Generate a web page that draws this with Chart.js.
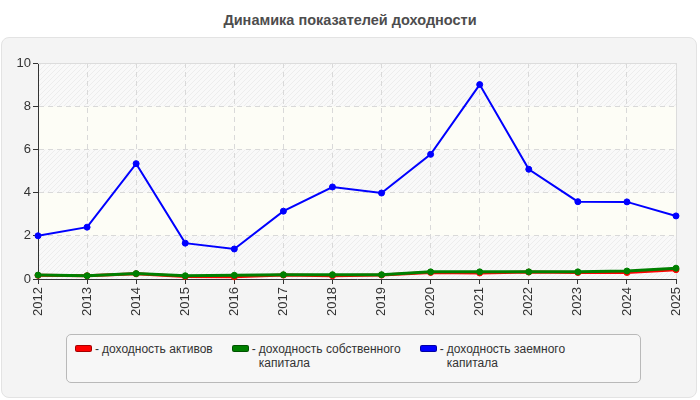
<!DOCTYPE html>
<html>
<head>
<meta charset="utf-8">
<script src="https://cdn.jsdelivr.net/npm/chart.js@4.4.1/dist/chart.umd.min.js"></script>
<style>
  body { margin: 0; background: #fff; font-family: "Liberation Sans", Arial, sans-serif; }
  #wrap { position: relative; width: 700px; height: 400px; overflow: hidden; }
  #title { position: absolute; left: 0; top: 12px; width: 700px; text-align: center;
           font: bold 14.5px "Liberation Sans", Arial, sans-serif; color: #4d4d4d; }
  #panel { position: absolute; left: 1px; top: 37px; width: 694px; height: 359px;
           background: #f4f4f4; border: 1px solid #e3e3e3; border-radius: 8px; }
  #chartbox { position: absolute; left: 0; top: 0; width: 700px; height: 330px; }
  #legend { position: absolute; left: 66px; top: 334px; width: 565px; height: 47px;
            border: 1px solid #b9b9b9; border-radius: 5px; background: #f7f7f7;
            display: flex; padding: 0 0 0 8px; gap: 19px; box-sizing: content-box; }
  .item { display: flex; align-items: flex-start; margin-top: 7px;
          font: 12px "Liberation Sans", Arial, sans-serif; color: #333; line-height: 14px; }
  .box { width: 15px; height: 5px; border-radius: 2px; border: 1px solid; margin-top: 3px; margin-right: 3px; }
  .dash { margin-right: 3px; }
  .txt { max-width: 142px; }
</style>
</head>
<body>
<div id="wrap">
  <div id="panel"></div>
  <div id="title">Динамика показателей доходности</div>
  <div id="chartbox"><canvas id="mycanvas" width="700" height="330"></canvas></div>
  <div id="legend"></div>
</div>
<script>
var years = ['2012','2013','2014','2015','2016','2017','2018','2019','2020','2021','2022','2023','2024','2025'];
var seriesNames = ['доходность активов', 'доходность собственного капитала', 'доходность заемного капитала'];
var seriesColors = ['#ff0000', '#008000', '#0000ff'];
var roa = [0.17, 0.15, 0.24, 0.12, 0.10, 0.18, 0.15, 0.18, 0.30, 0.28, 0.32, 0.30, 0.30, 0.43];
var roe = [0.18, 0.15, 0.25, 0.15, 0.17, 0.20, 0.20, 0.20, 0.33, 0.33, 0.33, 0.33, 0.37, 0.50];
var rod = [2.00, 2.40, 5.34, 1.66, 1.39, 3.14, 4.26, 3.98, 5.77, 9.00, 5.08, 3.58, 3.57, 2.92];
var yTicks = [0, 2, 4, 6, 8, 10];

// striped / cream bands behind the plot
function makeHatch(ctx) {
  var c = document.createElement('canvas');
  c.width = 5; c.height = 5;
  var g = c.getContext('2d');
  g.fillStyle = '#f9f9f9';
  g.fillRect(0, 0, 5, 5);
  g.strokeStyle = '#ededed';
  g.lineWidth = 1;
  g.beginPath();
  g.moveTo(0, 5); g.lineTo(5, 0);
  g.moveTo(-1, 1); g.lineTo(1, -1);
  g.moveTo(4, 6); g.lineTo(6, 4);
  g.stroke();
  return ctx.createPattern(c, 'repeat');
}

var bandPlugin = {
  id: 'bands',
  beforeDraw: function(chart) {
    var ctx = chart.ctx, a = chart.chartArea, y = chart.scales.y;
    var hatch = makeHatch(ctx);
    ctx.save();
    for (var i = 0; i < yTicks.length - 1; i++) {
      var top = y.getPixelForValue(yTicks[i + 1]);
      var bot = y.getPixelForValue(yTicks[i]);
      ctx.fillStyle = (i % 2 === 0) ? hatch : '#fdfdf6';
      ctx.fillRect(a.left, top, a.right - a.left, bot - top);
    }
    ctx.restore();
  },
  beforeDatasetsDraw: function(chart) {
    var ctx = chart.ctx, a = chart.chartArea;
    ctx.save();
    ctx.strokeStyle = '#dcdcdc';
    ctx.lineWidth = 1;
    ctx.beginPath();
    ctx.moveTo(a.left, Math.round(a.top) + 0.5);
    ctx.lineTo(Math.round(a.right) + 0.5, Math.round(a.top) + 0.5);
    ctx.lineTo(Math.round(a.right) + 0.5, a.bottom);
    ctx.stroke();
    ctx.restore();
  }
};

var chartdata = {
  labels: years,
  datasets: [
    { label: seriesNames[0], data: roa, borderColor: seriesColors[0], backgroundColor: seriesColors[0],
      borderWidth: 3, pointRadius: 3, pointBorderWidth: 1, order: 2, clip: false, tension: 0 },
    { label: seriesNames[1], data: roe, borderColor: seriesColors[1], backgroundColor: seriesColors[1],
      borderWidth: 3, pointRadius: 3, pointBorderWidth: 1, order: 1, clip: false, tension: 0 },
    { label: seriesNames[2], data: rod, borderColor: seriesColors[2], backgroundColor: seriesColors[2],
      borderWidth: 2, pointRadius: 3, pointBorderWidth: 1, order: 0, clip: false, tension: 0 }
  ]
};

var tickFont = { family: '"Liberation Sans", Arial, sans-serif', size: 13 };

var ctx = document.getElementById('mycanvas');
var LineGraph = new Chart(ctx, {
  type: 'line',
  data: chartdata,
  plugins: [bandPlugin],
  options: {
    responsive: false,
    animation: false,
    layout: { padding: { top: 63, right: 24, left: 0, bottom: 0 } },
    plugins: { legend: { display: false }, title: { display: false }, tooltip: { enabled: false } },
    scales: {
      x: {
        offset: false,
        afterFit: function(s) { s.height = 51; },
        border: { color: '#333', width: 1, dash: [5, 4] },
        grid: {
          color: function(c) { return c.index === 0 ? 'rgba(0,0,0,0)' : '#d9d9d9'; },
          tickBorderDash: [], tickColor: '#333', tickLength: 5, tickWidth: 1
        },
        ticks: { color: '#333', font: tickFont, minRotation: 90, maxRotation: 90, padding: 3, autoSkip: false }
      },
      y: {
        min: 0, max: 10,
        afterFit: function(s) { s.width = 38; },
        afterBuildTicks: function(s) { s.ticks = yTicks.map(function(v) { return { value: v }; }); },
        border: { color: '#333', width: 1, dash: [5, 4] },
        grid: {
          color: function(c) { return (c.tick.value === 0 || c.tick.value === 10) ? 'rgba(0,0,0,0)' : '#d9d9d9'; },
          tickBorderDash: [], tickColor: '#333', tickLength: 5, tickWidth: 1
        },
        ticks: { color: '#333', font: tickFont, padding: 2 }
      }
    }
  }
});

// legend as html, from the chart's datasets
var lg = document.getElementById('legend');
LineGraph.data.datasets.forEach(function(ds) {
  var it = document.createElement('div');
  it.className = 'item';
  var b = document.createElement('span');
  b.className = 'box';
  b.style.background = ds.borderColor;
  b.style.borderColor = 'rgba(0,0,0,0.35)';
  var d = document.createElement('span');
  d.className = 'dash';
  d.textContent = '-';
  var t = document.createElement('span');
  t.className = 'txt';
  t.textContent = ds.label;
  it.appendChild(b); it.appendChild(d); it.appendChild(t);
  lg.appendChild(it);
});
</script>
</body>
</html>
